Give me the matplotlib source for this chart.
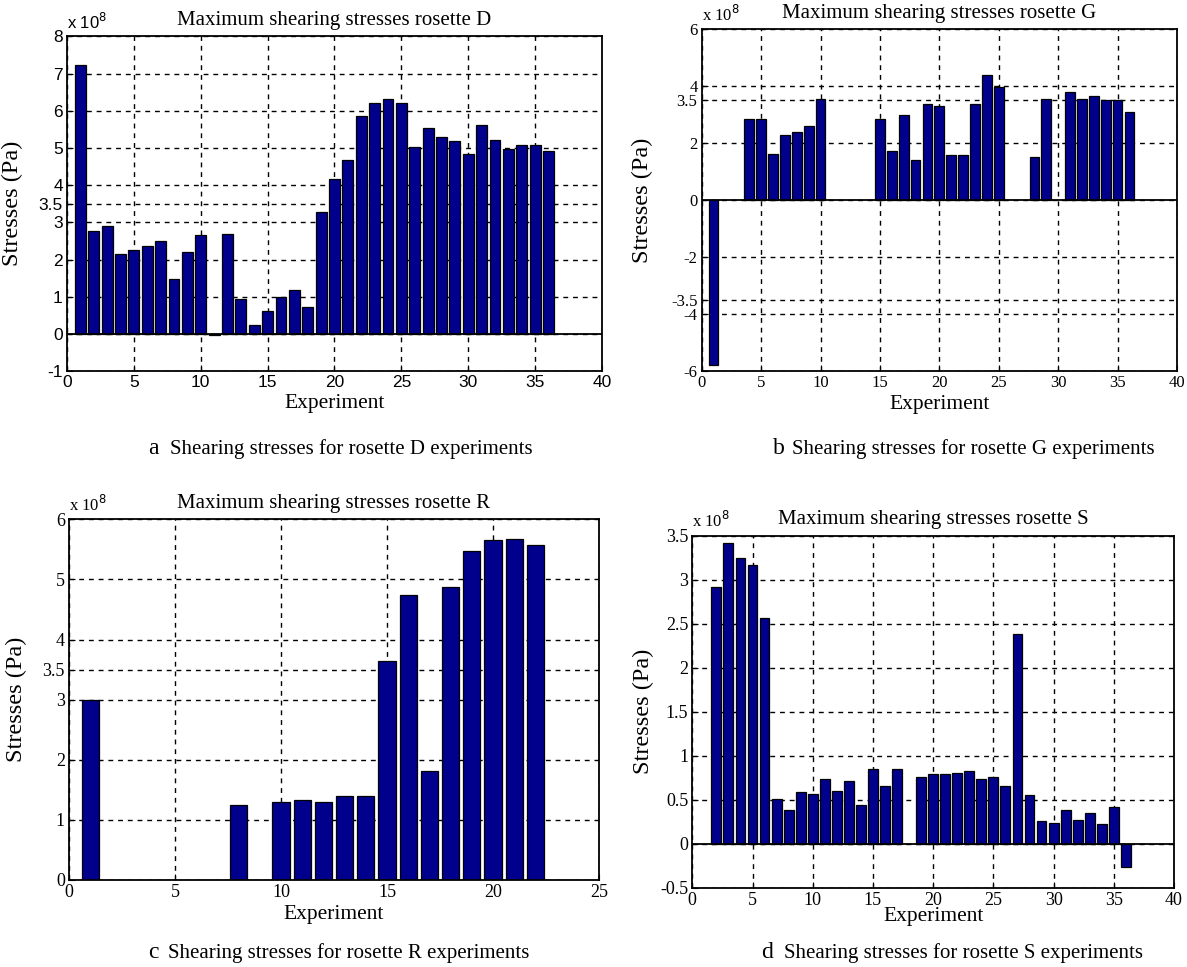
import matplotlib
matplotlib.use("Agg")
import matplotlib.pyplot as plt

# Maximum shearing stresses per experiment, in units of 1e8 Pa
d_experiments = list(range(1, 37))
d_values = [7.22, 2.78, 2.90, 2.16, 2.26, 2.37, 2.51, 1.47, 2.19, 2.65,
            -0.03, 2.68, 0.93, 0.25, 0.62, 0.99, 1.18, 0.71, 3.29, 4.16,
            4.67, 5.87, 6.22, 6.33, 6.22, 5.02, 5.54, 5.30, 5.18, 4.84,
            5.61, 5.22, 4.98, 5.08, 5.08, 4.93]

g_experiments = [1, 4, 5, 6, 7, 8, 9, 10, 15, 16, 17, 18, 19, 20, 21, 22,
                 23, 24, 25, 28, 29, 31, 32, 33, 34, 35, 36]
g_values = [-5.80, 2.85, 2.85, 1.63, 2.28, 2.38, 2.61, 3.55, 2.85, 1.72,
            2.99, 1.39, 3.36, 3.31, 1.58, 1.58, 3.36, 4.39, 3.96, 1.52,
            3.55, 3.78, 3.55, 3.64, 3.50, 3.50, 3.08]

r_experiments = [1, 8, 10, 11, 12, 13, 14, 15, 16, 17, 18, 19, 20, 21, 22]
r_values = [2.99, 1.25, 1.29, 1.33, 1.29, 1.40, 1.40, 3.65, 4.74, 1.81,
            4.88, 5.48, 5.66, 5.68, 5.58]

s_experiments = [2, 3, 4, 5, 6, 7, 8, 9, 10, 11, 12, 13, 14, 15, 16, 17,
                 19, 20, 21, 22, 23, 24, 25, 26, 27, 28, 29, 30, 31, 32,
                 33, 34, 35, 36]
s_values = [2.92, 3.41, 3.24, 3.16, 2.56, 0.51, 0.38, 0.59, 0.56, 0.73,
            0.60, 0.71, 0.44, 0.85, 0.65, 0.85, 0.76, 0.79, 0.79, 0.80,
            0.82, 0.73, 0.76, 0.65, 2.38, 0.55, 0.26, 0.23, 0.38, 0.27,
            0.35, 0.22, 0.42, -0.27]

d_yticks = [-1, 0, 1, 2, 3, 3.5, 4, 5, 6, 7, 8]
g_yticks = [-6, -4, -3.5, -2, 0, 2, 3.5, 4, 6]
r_yticks = [0, 1, 2, 3, 3.5, 4, 5, 6]
s_yticks = [-0.5, 0, 0.5, 1, 1.5, 2, 2.5, 3, 3.5]

titles = ["Maximum shearing stresses rosette D",
          "Maximum shearing stresses rosette G",
          "Maximum shearing stresses rosette R",
          "Maximum shearing stresses rosette S"]
caption_letters = ["a", "b", "c", "d"]
caption_texts = ["Shearing stresses for rosette D experiments",
                 "Shearing stresses for rosette G experiments",
                 "Shearing stresses for rosette R experiments",
                 "Shearing stresses for rosette S experiments"]

W, H = 1187, 967
BAR_COLOR = "#00008C"
SERIF = "Liberation Serif"
SANS = "Liberation Sans"

fig = plt.figure(figsize=(W / 100, H / 100), dpi=100)
fig.patch.set_facecolor("white")


def px_axes(left, top, right, bottom):
    return fig.add_axes([left / W, (H - bottom) / H, (right - left) / W, (bottom - top) / H])


def fmt(v):
    return ("%g" % v)


def panel(ax, xs, ys, xlim, xticks, ylim, yticks, title, tick_font, tick_size,
          ylab_x, xlab_y, baseline=True):
    ax.bar(xs, ys, width=0.82, color=BAR_COLOR, edgecolor="black",
           linewidth=0.9, zorder=3)
    if baseline:
        ax.axhline(0, color="black", linewidth=1.3, zorder=4)
    ax.set_xlim(*xlim)
    ax.set_ylim(*ylim)
    ax.set_xticks(xticks)
    ax.set_yticks(yticks)
    ax.set_xticklabels([fmt(v) for v in xticks], fontfamily=tick_font, fontsize=tick_size)
    ax.set_yticklabels([fmt(v) for v in yticks], fontfamily=tick_font, fontsize=tick_size)
    ax.tick_params(direction="in", length=4, width=0.8, pad=3)
    ax.grid(True, color="black", linestyle=(0, (3.5, 3.5)), linewidth=1.0, zorder=1)
    for s in ax.spines.values():
        s.set_linewidth(1.3)
        s.set_zorder(5)
    ax.set_title(title, fontfamily=SERIF, fontsize=15, pad=8)
    ax.set_ylabel("Stresses (Pa)", fontfamily=SERIF, fontsize=17.5)
    ax.yaxis.set_label_coords(ylab_x, 0.5)
    ax.set_xlabel("Experiment", fontfamily=SERIF, fontsize=15.5)
    ax.xaxis.set_label_coords(0.5, xlab_y)
    ax.text(0.0, 1.012, r"x 10$^{8}$", transform=ax.transAxes,
            fontfamily=tick_font, fontsize=12, ha="left", va="bottom")


ax_d = px_axes(67, 36.5, 602, 371)
panel(ax_d, d_experiments, d_values, (0, 40), list(range(0, 41, 5)),
      (-1, 8), d_yticks, titles[0], SANS, 12.5, -0.082, -0.07)

ax_g = px_axes(701.7, 29.3, 1177, 370.7)
panel(ax_g, g_experiments, g_values, (0, 40), list(range(0, 41, 5)),
      (-6, 6), g_yticks, titles[1], SERIF, 12, -0.102, -0.07)

ax_r = px_axes(69, 519.3, 599, 880)
panel(ax_r, r_experiments, r_values, (0, 25), list(range(0, 26, 5)),
      (0, 6), r_yticks, titles[2], SERIF, 13, -0.079, -0.068, baseline=False)

ax_s = px_axes(692.3, 535.5, 1174, 887.7)
panel(ax_s, s_experiments, s_values, (0, 40), list(range(0, 41, 5)),
      (-0.5, 3.5), s_yticks, titles[3], SERIF, 13, -0.080, -0.055)

# Figure captions under each panel
caption_pos = [(148, 170, 449), (773, 792, 449), (148, 168, 953), (761, 784, 953)]
for letter, text, (lx, tx, y) in zip(caption_letters, caption_texts, caption_pos):
    fig.text(lx / W, 1 - y / H, letter, fontfamily=SERIF, fontsize=17,
             ha="left", va="center")
    fig.text(tx / W, 1 - y / H, text, fontfamily=SERIF, fontsize=15,
             ha="left", va="center")

fig.savefig("out.png", dpi=100, facecolor="white")
